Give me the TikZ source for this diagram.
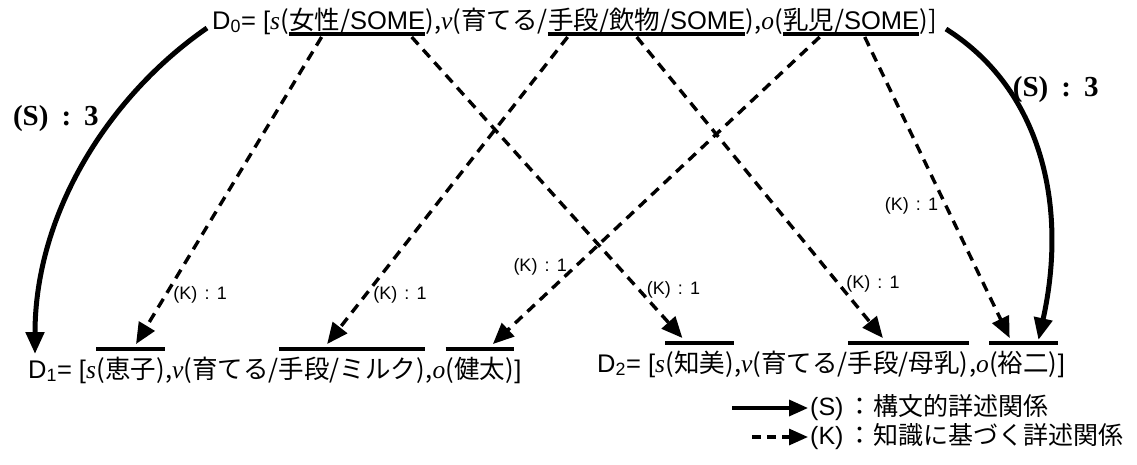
\documentclass[tikz,border=0pt]{standalone}
\usepackage{fontspec}
\setmainfont{Liberation Sans}
\newfontfamily\jp{Noto Sans CJK JP}
\newfontfamily\tms{Liberation Serif}
\usetikzlibrary{arrows.meta,calc}
\newcommand\vs[1]{{\tms\itshape #1}}
\newcommand\sm{{\rmfamily SOME}}
\newcommand\dfont{\fontsize{25.5}{28}\selectfont}
\begin{document}
\begin{tikzpicture}[x=1pt,y=-1pt,
  seg/.style={inner sep=0pt, anchor=base west, font=\dfont},
  kline/.style={line width=3.4pt, dash pattern=on 10pt off 7pt, -{Triangle[length=21pt,width=18pt]}},
  sline/.style={line width=5pt, -{Triangle[length=22pt,width=18pt]}},
  klab/.style={font=\fontsize{18}{18}\selectfont, inner sep=6pt},
  slab/.style={font=\tms\bfseries\fontsize{29}{29}\selectfont, inner sep=6pt},
  bar/.style={line width=3.2pt},
  legtext/.style={font=\fontsize{25}{28}\selectfont, inner sep=2pt, anchor=west},
  legs/.style={line width=3.4pt, -{Triangle[length=19pt,width=16pt]}},
  legk/.style={line width=3.2pt, dash pattern=on 9pt off 6pt, -{Triangle[length=19pt,width=16pt]}}]
\useasboundingbox (0,0) rectangle (1137,464);
\fill[white] (0,0) rectangle (1137,464);

% ---- top line D0
\node[seg] (d0a) at (212,29) {D\textsubscript{0}= [\vs{s}{\jp(}};
\node[seg] (u1) at (d0a.base east) {\jp 女性/\sm};
\node[seg] (d0b) at (u1.base east) {\jp),\vs{v}(育てる/};
\node[seg] (u2) at (d0b.base east) {\jp 手段/飲物/\sm};
\node[seg] (d0c) at (u2.base east) {\jp),\vs{o}(};
\node[seg] (u3) at (d0c.base east) {\jp 乳児/\sm};
\node[seg] (d0d) at (u3.base east) {\jp)]};
\foreach \n in {u1,u2,u3}{
  \coordinate (\n l) at ([yshift=-5pt]\n.base west);
  \coordinate (\n r) at ([yshift=-5pt]\n.base east);
  \draw[bar] (\n l) -- (\n r);
}

% ---- bottom line D1
\node[seg] (d1a) at (28,378) {D\textsubscript{1}= [\vs{s}};
\node[seg] (o11) at (d1a.base east) {\jp(恵子)};
\node[seg] (d1b) at (o11.base east) {\jp,\vs{v}(育てる/};
\node[seg] (o12) at (d1b.base east) {\jp 手段/ミルク)};
\node[seg] (d1c) at (o12.base east) {\jp,\vs{o}};
\node[seg] (o13) at (d1c.base east) {\jp(健太)};
\node[seg] (d1d) at (o13.base east) {]};

% ---- bottom line D2
\node[seg] (d2a) at (597,372) {D\textsubscript{2}= [\vs{s}};
\node[seg] (o21) at (d2a.base east) {\jp(知美)};
\node[seg] (d2b) at (o21.base east) {\jp,\vs{v}(育てる/};
\node[seg] (o22) at (d2b.base east) {\jp 手段/母乳)};
\node[seg] (d2c) at (o22.base east) {\jp,\vs{o}};
\node[seg] (o23) at (d2c.base east) {\jp(裕二)};
\node[seg] (d2d) at (o23.base east) {]};

\foreach \n in {o11,o12,o13,o21,o22,o23}{
  \coordinate (\n l) at ([yshift=29pt]\n.base west);
  \coordinate (\n r) at ([yshift=29pt]\n.base east);
  \draw[bar] (\n l) -- (\n r);
}

% ---- knowledge-based arrows
\draw[kline] ($(u1l)!0.24!(u1r)+(0,3)$) -- ($(o11l)!0.58!(o11r)+(0,-5)$)
  node[klab, pos=0.84, anchor=west] {(K)\hspace{0.4em}:\hspace{0.4em}1};
\draw[kline] ($(u1l)!0.90!(u1r)+(0,3)$) -- ($(o21l)!0.25!(o21r)+(0,-5)$)
  node[klab, pos=0.84, anchor=west] {(K)\hspace{0.4em}:\hspace{0.4em}1};
\draw[kline] ($(u2l)!0.10!(u2r)+(0,3)$) -- ($(o12l)!0.33!(o12r)+(0,-5)$)
  node[klab, pos=0.84, anchor=west] {(K)\hspace{0.4em}:\hspace{0.4em}1};
\draw[kline] ($(u2l)!0.45!(u2r)+(0,3)$) -- ($(o22l)!0.29!(o22r)+(0,-5)$)
  node[klab, pos=0.82, anchor=west] {(K)\hspace{0.4em}:\hspace{0.4em}1};
\draw[kline] ($(u3l)!0.27!(u3r)+(0,3)$) -- ($(o13l)!0.69!(o13r)+(0,-5)$)
  node[klab, pos=0.75, anchor=east] {(K)\hspace{0.4em}:\hspace{0.4em}1};
\draw[kline] ($(u3l)!0.60!(u3r)+(0,3)$) -- ($(o23l)!0.3!(o23r)+(0,-5)$)
  node[klab, pos=0.56, anchor=east] {(K)\hspace{0.4em}:\hspace{0.4em}1};

% ---- syntactic arrows
\draw[sline] ($(d0a.base west)+(-5,-1)$) .. controls +(-97,67) and +(0,-142) .. ($(d1a.base west)+(7,-24)$)
  node[slab, pos=0.36, anchor=east, xshift=-6pt] {(S)\hspace{0.45em}:\hspace{0.45em}3};
\draw[sline] ($(d0d.base east)+(9,0)$) .. controls +(95,60) and +(30,-135) .. ($(o23l)!0.72!(o23r)+(0,-3)$)
  node[slab, pos=0.27, anchor=west, inner sep=2pt] {(S)\hspace{0.45em}:\hspace{0.45em}3};

% ---- legend
\coordinate (l1) at (732,408);
\node[legtext] (t1) at (808,408) {(S)\hspace{0.15em}{\jp：}\hspace{0.05em}{\jp 構文的詳述関係}};
\draw[legs] (l1) -- (t1.west);
\coordinate (l2) at (752,437);
\node[legtext] (t2) at (808,437) {(K)\hspace{0.15em}{\jp：}\hspace{0.05em}{\jp 知識に基づく詳述関係}};
\draw[legk] (l2) -- (t2.west);
\end{tikzpicture}
\end{document}
